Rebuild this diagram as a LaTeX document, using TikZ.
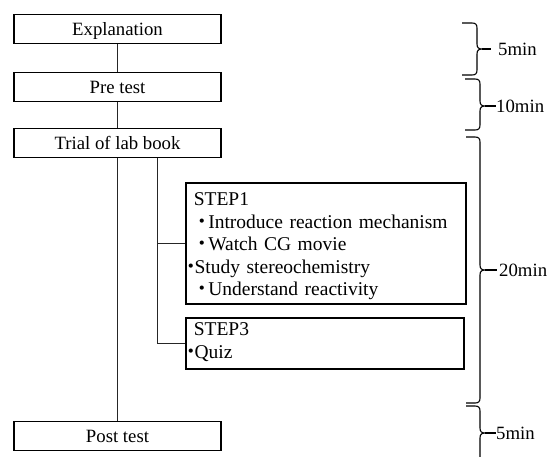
\documentclass[tikz,border=0pt]{standalone}
\usepackage{fontspec}
\setmainfont{Liberation Serif}
\newfontfamily\cjk{Noto Sans CJK JP}
% bullet followed by a gap, and a bullet hanging just before the text
\newcommand\bulsp{\leavevmode\rlap{\hspace*{8.7pt}\makebox[0pt][c]{\cjk ・}}\hspace*{14.5pt}}
\newcommand\bulnsp{\leavevmode\rlap{\hspace*{-2.6pt}\makebox[0pt][c]{\cjk ・}}\hspace*{0.8pt}}
% curly brace opening to the left, tip pointing right
% #1 end x, #2 spine x, #3 top y, #4 tip y, #5 bottom y
\newcommand\timebrace[5]{%
  \draw[tbr] (#1,#3) -- ({#2-5},#3)
    .. controls ({#2-1.5},#3) and (#2,{#3+1.5}) .. (#2,{#3+5})
    -- (#2,{#4-5})
    .. controls (#2,{#4-1.5}) and ({#2+1.5},#4) .. ({#2+5},#4)
    .. controls ({#2+1.5},#4) and (#2,{#4+1.5}) .. (#2,{#4+5})
    -- (#2,{#5-5})
    .. controls (#2,{#5-1.5}) and ({#2-1.5},#5) .. ({#2-5},#5)
    -- (#1,#5);}
\begin{document}
\begin{tikzpicture}[x=1pt,y=-1pt,
  every node/.style={font=\fontsize{18.75}{22.5}\selectfont},
  flowbox/.style={draw, line width=1.6pt, minimum width=207pt, minimum height=29pt,
    inner sep=0pt, text height=14pt, text depth=1pt},
  stepbox/.style={draw, line width=1.6pt, align=left, inner xsep=8pt, inner ysep=0pt,
    anchor=north west, font=\fontsize{19.5}{22.5}\selectfont},
  link/.style={line width=0.9pt, draw=black!85},
  tbr/.style={line width=1.1pt},
  lbl/.style={anchor=west, inner sep=0pt}]
\useasboundingbox (0,0) rectangle (548,456);

% main sequence
\node[flowbox] (expl)  at (117.5,29)  {Explanation};
\node[flowbox] (pre)   at (117.5,87)  {Pre test};
\node[flowbox] (trial) at (117.5,143) {Trial of lab book};
\node[flowbox] (post)  at (117.5,436) {Post test};

% activity steps
\node[stepbox, minimum width=280pt, text width=264pt] (s1) at (185,182) {%
\rule{0pt}{23pt}STEP1\\
\bulsp Introduce reaction mechanism\\
\bulsp Watch CG movie\\
\bulnsp Study stereochemistry\\
\bulsp Understand reactivity\rule[-8pt]{0pt}{8pt}};
\node[stepbox, minimum width=278pt, text width=262pt] (s3) at (185,317) {%
\rule{0pt}{18pt}STEP3\\
\bulnsp Quiz\rule[-10.5pt]{0pt}{10.5pt}};

% connectors
\coordinate (br) at (157,0);
\draw[link] (expl.south) -- (pre.north);
\draw[link] (pre.south) -- (trial.north);
\draw[link] (trial.south) -- (post.north);
\draw[link] (trial.south -| br) |- (s3.west);
\draw[link] (s1.west -| br) -- (s1.west);

% time labels
\node[lbl] (t1) at (498,49)  {5min};
\node[lbl] (t2) at (496,106) {10min};
\node[lbl] (t3) at (499,270) {20min};
\node[lbl] (t4) at (496,433) {5min};

% braces
\timebrace{462}{477}{23}{49}{75}
\draw[tbr] (482,49) -- (491,49);
\timebrace{465}{480}{79}{106}{130}
\draw[tbr] (485,106) -- (t2.west);
\timebrace{466}{480}{137}{270}{403}
\draw[tbr] (485,270) -- (497,270);
\timebrace{466}{480}{406}{433}{480}
\draw[tbr] (485,433) -- (t4.west);
\end{tikzpicture}
\end{document}
